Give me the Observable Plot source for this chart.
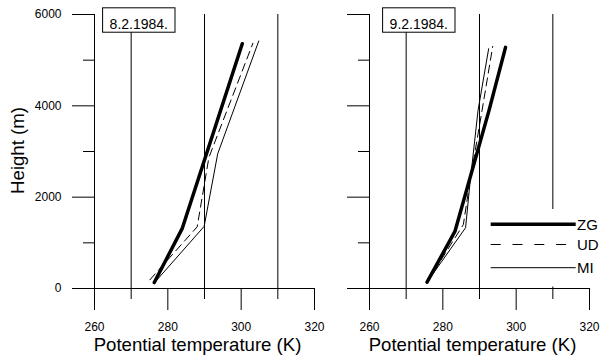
<!DOCTYPE html>
<html><head><meta charset="utf-8">
<script src="https://cdn.jsdelivr.net/npm/d3@7"></script>
<script src="https://cdn.jsdelivr.net/npm/@observablehq/plot@0.6"></script>
<style>
body{margin:0;background:#fff;}
#chart{position:relative;width:601px;height:360px;overflow:hidden;font-family:"Liberation Sans",Arial,sans-serif;}
#chart svg{position:absolute;top:0;}
</style></head><body><div id="chart"></div>
<script>
// ---- data ----
const seriesNames = ["ZG", "UD", "MI"];
const dates = ["8.2.1984.", "9.2.1984."];
const xTicksMajor = [260, 280, 300, 320];
const xTicksMinor = [270, 290, 310];
const yTicksMajor = [0, 2000, 4000, 6000];
const yTicksMinor = [1000, 3000, 5000];
const xTitle = "Potential temperature (K)";
const yTitle = "Height (m)";

// 8.2.1984.
const zgTemp8 = [276.3, 283.9, 300.3];
const zgHeight8 = [130, 1310, 5360];
const udTemp8 = [275.1, 288.0, 291.2, 303.2];
const udHeight8 = [190, 1350, 2870, 5370];
const miTemp8 = [276.5, 289.9, 293.6, 304.8];
const miHeight8 = [140, 1360, 2950, 5420];

// 9.2.1984.
const zgTemp9 = [275.7, 283.3, 292.6, 297.1];
const zgHeight9 = [140, 1250, 3900, 5280];
const udTemp9 = [275.8, 285.6, 287.3, 290.7, 293.6];
const udHeight9 = [150, 1400, 2300, 3900, 5300];
const miTemp9 = [275.8, 286.2, 287.4, 289.6, 292.5];
const miHeight9 = [150, 1330, 2300, 3900, 5250];

// ---- styles ----
const seriesStyle = {
  ZG: {strokeWidth: 3.5},
  UD: {strokeWidth: 1, strokeDasharray: "8,5"},
  MI: {strokeWidth: 1}
};
const FONT = "'Liberation Sans', Arial, sans-serif";

const zip = (T, H) => T.map((t, i) => ({T: t, H: H[i]}));

function panel({date, series, width, marginLeft, marginRight, yLabels, boxDx}) {
  const marks = [
    Plot.ruleX(xTicksMinor, {y1: 0, y2: 6000, stroke: "black"}),
    Plot.ruleX([260], {y1: 0, y2: 6000, stroke: "black"}),
    Plot.ruleY([0], {x1: 260, x2: 320, stroke: "black"}),
    Plot.axisX({ticks: xTicksMajor, tickSize: 22, tickPadding: 12, label: null, fontSize: 12,
                tickFormat: d3.format("d")}),
    Plot.axisX({ticks: xTicksMinor, tickSize: 11, tickFormat: () => "", label: null}),
    Plot.axisY({ticks: yTicksMajor, tickSize: 22, tickPadding: 11, label: null, fontSize: 12,
                tickFormat: yLabels ? d3.format("d") : () => ""}),
    Plot.axisY({ticks: yTicksMinor, tickSize: 11, tickFormat: () => "", label: null}),
  ];
  seriesNames.forEach((name, i) => {
    marks.push(Plot.line(series[i], {x: "T", y: "H", stroke: "black", ...seriesStyle[name]}));
  });
  marks.push(Plot.text([date], {frameAnchor: "top-left", dx: boxDx, dy: 9.8, textAnchor: "middle",
                                lineAnchor: "middle", fontSize: 14, fill: "black"}));
  marks.push(Plot.text([xTitle], {frameAnchor: "bottom", dx: -7, dy: 57, textAnchor: "middle",
                                  lineAnchor: "middle", fontSize: 18.6, fill: "black"}));
  if (yLabels) {
    marks.push(Plot.text([yTitle], {frameAnchor: "left", rotate: -90, dx: -76.8, dy: -1,
                                    textAnchor: "middle", lineAnchor: "middle", fontSize: 18.6, fill: "black"}));
  }
  const svg = Plot.plot({
    width, height: 360, marginLeft, marginRight, marginTop: 14, marginBottom: 72,
    x: {domain: [260, 320]},
    y: {domain: [0, 6000]},
    style: {fontFamily: FONT, fontSize: "12px", color: "black", background: "transparent"},
    marks
  });
  // make sure tick labels use 12px
  svg.querySelectorAll("g[aria-label$='tick label']").forEach(g => {
    g.setAttribute("font-size", "12");
    g.querySelectorAll("text").forEach(t => t.setAttribute("font-size", "12"));
  });
  return svg;
}

const chart = document.getElementById("chart");

const left = panel({
  date: dates[0],
  series: [zip(zgTemp8, zgHeight8), zip(udTemp8, udHeight8), zip(miTemp8, miHeight8)],
  width: 330, marginLeft: 94, marginRight: 16, yLabels: true, boxDx: 44.3
});
left.style.left = "0px";
chart.appendChild(left);

const right = panel({
  date: dates[1],
  series: [zip(zgTemp9, zgHeight9), zip(udTemp9, udHeight9), zip(miTemp9, miHeight9)],
  width: 271, marginLeft: 39, marginRight: 12, yLabels: false, boxDx: 49.3
});
right.style.left = "330px";
chart.appendChild(right);

// date boxes
function addBox(svg, date) {
  const texts = Array.from(svg.querySelectorAll("text")).filter(t => t.textContent === date);
  if (!texts.length) return;
  const t = texts[0];
  const r = t.getBoundingClientRect();
  const s = svg.getBoundingClientRect();
  const baseline = r.bottom - s.top - 0.212 * 14;
  const g = t.closest("g") || t;
  const rect = document.createElementNS("http://www.w3.org/2000/svg", "rect");
  rect.setAttribute("x", r.left - s.left - 7);
  rect.setAttribute("y", baseline - 21);
  rect.setAttribute("width", r.width + 14);
  rect.setAttribute("height", 24.4);
  rect.setAttribute("fill", "white");
  rect.setAttribute("stroke", "black");
  rect.setAttribute("stroke-width", 1);
  g.parentNode.insertBefore(rect, g);
}
addBox(left, dates[0]);
addBox(right, dates[1]);

// legend (right panel)
const lg = d3.select(right).append("g").attr("font-family", FONT).attr("font-size", 15)
  .attr("text-anchor", "start");
lg.append("rect").attr("x", 154).attr("y", 209).attr("width", 117).attr("height", 77.5).attr("fill", "white");
const legendY = [224.3, 244.5, 267.7];
const legendDash = {ZG: null, UD: "10,11.8", MI: null};
seriesNames.forEach((name, i) => {
  lg.append("line")
    .attr("x1", 160.7).attr("x2", 245.7)
    .attr("y1", legendY[i]).attr("y2", legendY[i])
    .attr("stroke", "black")
    .attr("stroke-width", seriesStyle[name].strokeWidth)
    .attr("stroke-dasharray", legendDash[name]);
  lg.append("text").attr("x", 247).attr("y", legendY[i] + 5.4)
    .attr("text-anchor", "start").attr("fill", "black").text(name);
});
</script>
</body></html>
